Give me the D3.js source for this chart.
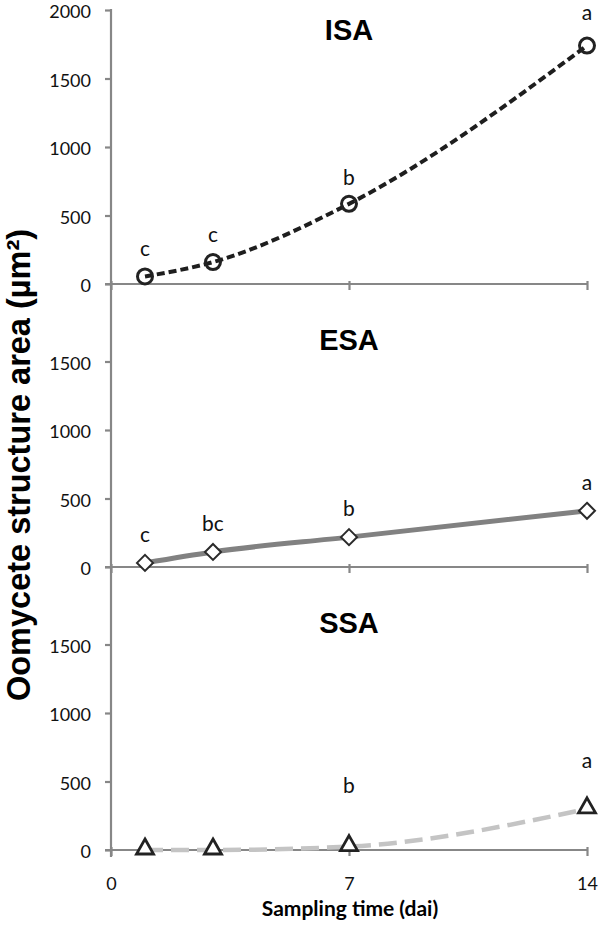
<!DOCTYPE html>
<html><head><meta charset="utf-8">
<script src="https://cdn.jsdelivr.net/npm/d3@7"></script>
<style>body{margin:0;background:#fff}svg{display:block}</style>
</head><body>
<svg id="c" width="600" height="927"></svg>
<script>
const days = [1, 3, 7, 14];
const xTicks = [0, 7, 14];
const panels = ["ISA", "ESA", "SSA"];
const isaValues = [55, 160, 585, 1740];
const esaValues = [30, 110, 218, 410];
const ssaValues = [0, 0, 25, 300];
const isaLetters = ["c", "c", "b", "a"];
const esaLetters = ["c", "bc", "b", "a"];
const ssaLetters = ["", "", "b", "a"];
const topTicks = [0, 500, 1000, 1500, 2000];
const lowerTicks = [0, 500, 1000, 1500];

const svg = d3.select("#c");
const axisColor = "#878787";
const x = d3.scaleLinear().domain([0, 14]).range([111, 587]);
const baseY = [284, 567, 850];
const pxPer = 274 / 2000;
const tickFont = "Lato, 'Open Sans', sans-serif";

const series = [
  {name: panels[0], values: isaValues, letters: isaLetters, ticks: topTicks, stroke: "#1e1e1e", width: 4, dash: "8,4", marker: "circle", letterUp: [20, 20, 19, 26], titleY: 40},
  {name: panels[1], values: esaValues, letters: esaLetters, ticks: lowerTicks, stroke: "#818181", width: 5, dash: null, marker: "diamond", letterUp: [21, 21, 21, 21], titleY: 350},
  {name: panels[2], values: ssaValues, letters: ssaLetters, ticks: lowerTicks, stroke: "#c4c4c4", width: 4.5, dash: "18,8", marker: "triangle", letterUp: [21, 21, 54, 41], titleY: 633}
];

svg.append("line").attr("x1", 111).attr("x2", 111).attr("y1", 9).attr("y2", 857)
  .attr("stroke", axisColor).attr("stroke-width", 2.2);

series.forEach((s, i) => {
  const y = d3.scaleLinear().domain([0, 2000]).range([baseY[i], baseY[i] - 2000 * pxPer]);
  const g = svg.append("g");
  const ya = d3.axisLeft(y).tickValues(s.ticks).tickSize(6).tickPadding(14).tickFormat(d3.format("d"));
  const yg = g.append("g").attr("transform", "translate(111,0)").call(ya);
  yg.select(".domain").remove();
  yg.selectAll(".tick line").attr("stroke", axisColor).attr("stroke-width", 2.2);
  yg.selectAll(".tick text").attr("fill", "#111").attr("y", 2).style("font-family", tickFont).style("font-size", "18px");
  g.append("line").attr("x1", 105).attr("x2", 588).attr("y1", y(0)).attr("y2", y(0))
    .attr("stroke", axisColor).attr("stroke-width", 2.2);
  const xa = d3.axisBottom(x).tickValues(xTicks).tickSize(6).tickFormat(i === 2 ? d3.format("d") : () => "").tickPadding(21);
  const xg = g.append("g").attr("transform", `translate(0,${y(0)})`).call(xa);
  xg.select(".domain").remove();
  xg.selectAll(".tick line").attr("stroke", axisColor).attr("stroke-width", 2.2).attr("y1", -3);
  xg.selectAll(".tick text").attr("fill", "#111").style("font-family", tickFont).style("font-size", "18px");

  g.append("text").attr("x", 349).attr("y", s.titleY).attr("text-anchor", "middle")
    .style("font-family", "'Liberation Sans', Arial, sans-serif").style("font-weight", "bold").style("font-size", "29px")
    .text(s.name);

  const pts = days.map((d, k) => [x(d), y(s.values[k])]);
  const line = d3.line().curve(d3.curveMonotoneX);
  const path = g.append("path").attr("d", line(pts)).attr("fill", "none")
    .attr("stroke", s.stroke).attr("stroke-width", s.width);
  if (s.dash) path.attr("stroke-dasharray", s.dash);

  pts.forEach(([px, py]) => {
    if (s.marker === "circle") {
      g.append("circle").attr("cx", px).attr("cy", py).attr("r", 7.5).attr("fill", "none")
        .attr("stroke", "#222").attr("stroke-width", 3);
    } else if (s.marker === "diamond") {
      g.append("path").attr("d", `M${px},${py-8}L${px+8},${py}L${px},${py+8}L${px-8},${py}Z`)
        .attr("fill", "#fff").attr("stroke", "#2a2a2a").attr("stroke-width", 2);
    } else {
      g.append("path").attr("d", `M${px},${py-11}L${px+8.5},${py+4}L${px-8.5},${py+4}Z`)
        .attr("fill", "#fff").attr("stroke", "#222").attr("stroke-width", 2.8);
    }
  });
  days.forEach((d, k) => {
    if (!s.letters[k]) return;
    g.append("text").attr("x", x(d)).attr("y", y(s.values[k]) - s.letterUp[k]).attr("text-anchor", "middle")
      .style("font-family", tickFont).style("font-size", "21px").attr("fill", "#111")
      .text(s.letters[k]);
  });
});

svg.append("text").attr("transform", "translate(30,465) rotate(-90)").attr("text-anchor", "middle")
  .style("font-family", "'Liberation Sans', Arial, sans-serif").style("font-weight", "bold").style("font-size", "32.5px")
  .text("Oomycete structure area (µm²)");
svg.append("text").attr("x", 350).attr("y", 916).attr("text-anchor", "middle")
  .style("font-family", tickFont).style("font-weight", "bold").style("font-size", "21px")
  .text("Sampling time (dai)");
</script>
</body></html>
